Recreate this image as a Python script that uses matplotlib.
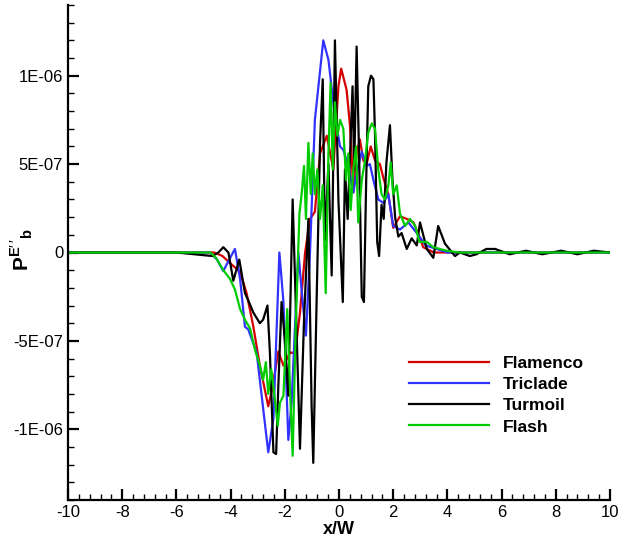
import matplotlib
matplotlib.use('Agg')
import matplotlib.pyplot as plt
from matplotlib.ticker import MultipleLocator, FixedLocator, FixedFormatter
import numpy as np

plt.rcParams['font.family'] = ['Liberation Sans', 'DejaVu Sans']
plt.rcParams['axes.unicode_minus'] = False
plt.rcParams['mathtext.fontset'] = 'custom'
plt.rcParams['mathtext.rm'] = 'Liberation Sans'
plt.rcParams['mathtext.bf'] = 'Liberation Sans:bold'

# values, y in units of 1e-6
flamenco_x = [-10, -6, -4.6, -4.3, -4.02, -3.65, -3.41, -3.16, -2.92, -2.61, -2.45,
              -2.24, -2.05, -1.81, -1.62, -1.44, -1.25, -1.07, -0.89, -0.70, -0.45,
              -0.21, -0.02, 0.08, 0.28, 0.41, 0.53, 0.65, 0.77, 0.90, 1.02, 1.17,
              1.33, 1.51, 1.64, 1.82, 2.0, 2.25, 2.5, 2.75, 3.11, 3.5, 4.5, 6, 8, 10]
flamenco_y = [0, 0, 0, -0.02, -0.06, -0.11, -0.23, -0.42, -0.64, -0.87, -0.76,
              -0.56, -0.64, -0.565, -0.57, -0.34, 0.0, 0.19, 0.23, 0.56, 0.66,
              0.47, 0.94, 1.04, 0.92, 0.71, 0.34, 0.56, 0.64, 0.52, 0.50, 0.60,
              0.52, 0.50, 0.42, 0.33, 0.14, 0.205, 0.19, 0.17, 0.03, 0.0, 0.0, 0.0, 0.0, 0.0]

triclade_x = [-10, -6, -4.76, -4.5, -4.27, -4.05, -3.84, -3.65, -3.47, -3.35, -3.04,
              -2.61, -2.42, -2.20, -2.05, -1.87, -1.75, -1.50, -1.34, -1.22, -1.07,
              -0.89, -0.58, -0.39, -0.15, 0.04, 0.16, 0.34, 0.53, 0.65, 0.84, 1.02,
              1.14, 1.27, 1.45, 1.64, 1.82, 2.0, 2.25, 2.56, 2.87, 3.2, 3.6, 4.0,
              4.34, 5, 6, 7, 8, 9, 10]
triclade_y = [0, 0, 0, -0.04, -0.105, -0.04, 0.02, -0.15, -0.42, -0.435, -0.565,
              -1.13, -0.94, 0.0, -0.28, -1.06, -0.85, 0.0, -0.28, -0.47, 0.0,
              0.75, 1.20, 1.09, 0.77, 0.60, 0.58, 0.49, 0.34, 0.45, 0.57, 0.49,
              0.50, 0.41, 0.30, 0.28, 0.33, 0.15, 0.13, 0.17, 0.11, 0.04, 0.02, 0.0,
              0.0, 0.0, 0.0, 0.0, 0.0, 0.0, 0.0]

turmoil_x = [-10, -6, -4.67, -4.45, -4.27, -4.08, -3.90, -3.68, -3.47, -3.35, -3.16,
             -2.92, -2.80, -2.64, -2.55, -2.42, -2.32, -2.24, -2.12, -2.0, -1.87,
             -1.71, -1.56, -1.44, -1.29, -1.13, -1.01, -0.95, -0.82, -0.70, -0.60,
             -0.52, -0.39, -0.27, -0.15, -0.02, 0.14, 0.22, 0.32, 0.41, 0.50, 0.56,
             0.65, 0.74, 0.84, 0.92, 1.0, 1.08, 1.18, 1.27, 1.33, 1.41, 1.48, 1.57,
             1.65, 1.75, 1.88, 1.97, 2.07, 2.19, 2.31, 2.5, 2.68, 2.87, 2.99, 3.24,
             3.48, 3.66, 3.91, 4.28, 4.46, 4.83, 5.07, 5.44, 5.76, 6.3, 6.9, 7.5,
             8.2, 8.8, 9.4, 10]
turmoil_y = [0, 0, -0.02, 0.0, 0.03, 0.0, -0.16, -0.04, -0.23, -0.27, -0.34,
             -0.40, -0.38, -0.30, -0.565, -1.13, -1.14, -0.76, -0.28, -0.49, -0.81,
             0.30, -0.47, -1.11, -0.38, 0.19, -0.87, -1.19, -0.23, 0.62, 0.98,
             0.07, 0.50, -0.13, 1.20, 0.29, -0.28, 0.47, 0.19, 0.56, 0.94, 0.47,
             1.165, 0.56, -0.25, -0.28, 0.38, 0.94, 1.0, 0.98, 0.66, 0.06, -0.02, 0.27,
             0.19, 0.51, 0.72, 0.42, 0.20, 0.09, 0.11, 0.02, 0.08, 0.04, 0.17, 0.02,
             -0.03, 0.15, 0.05, -0.02, 0.0, -0.02, -0.01, 0.02, 0.02, -0.01, 0.01, -0.01,
             0.01, -0.01, 0.01, 0.0]

flash_x = [-10, -6, -4.75, -4.54, -4.27, -4.02, -3.84, -3.65, -3.47, -3.28, -3.10,
           -2.92, -2.80, -2.70, -2.61, -2.50, -2.42, -2.26, -2.18, -2.05, -1.91,
           -1.81, -1.71, -1.59, -1.46, -1.38, -1.29, -1.22, -1.13, -1.04, -0.97,
           -0.89, -0.80, -0.70, -0.60, -0.49, -0.39, -0.31, -0.23, -0.15, -0.06,
           0.04, 0.16, 0.26, 0.34, 0.43, 0.53, 0.63, 0.71, 0.84, 0.96, 1.08, 1.21,
           1.33, 1.45, 1.57, 1.70, 1.82, 1.91, 2.0, 2.13, 2.25, 2.44, 2.62, 2.81,
           2.97, 3.24, 3.48, 3.97, 4.46, 5.5, 7, 8.5, 10]
flash_y = [0, 0, 0, -0.03, -0.10, -0.15, -0.21, -0.32, -0.38, -0.43, -0.55,
           -0.64, -0.72, -0.62, -0.80, -0.66, -0.76, -0.98, -0.85, -0.81, -0.32,
           -0.76, -1.15, -0.38, 0.22, 0.33, 0.49, 0.19, 0.62, 0.33, 0.56,
           0.33, 0.47, 0.19, 0.38, -0.23, 0.56, 0.96, 0.47, 0.85, 0.66,
           0.75, 0.70, 0.41, 0.56, 0.24, 0.47, 0.60, 0.17, 0.41, 0.52, 0.68, 0.73,
           0.70, 0.47, 0.33, 0.30, 0.38, 0.51, 0.33, 0.38, 0.22, 0.15, 0.19, 0.15,
           0.06, 0.06, 0.03, 0.01, 0.0, 0.0, 0.0, 0.0, 0.0]

series_names = ['Flamenco', 'Triclade', 'Turmoil', 'Flash']
series_colors = ['#d40000', '#3232ff', '#000000', '#00cc00']

yticks = [-1e-6, -5e-7, 0, 5e-7, 1e-6]
ytick_labels = ['-1E-06', '-5E-07', '0', '5E-07', '1E-06']

fig = plt.figure(figsize=(6.21, 5.51), dpi=100)
ax = fig.add_axes([68 / 621, 1 - 500 / 551, 542 / 621, 495 / 551])

all_x = [flamenco_x, triclade_x, turmoil_x, flash_x]
all_y = [flamenco_y, triclade_y, turmoil_y, flash_y]
for xs, ys, name, col in zip(all_x, all_y, series_names, series_colors):
    ax.plot(xs, np.array(ys) * 1e-6, color=col, lw=1.6, label=name)

ax.set_xlim(-10, 10)
ax.set_ylim(-1.4e-6, 1.4e-6)

ax.spines['top'].set_visible(False)
ax.spines['right'].set_visible(False)
ax.spines['left'].set_linewidth(1.6)
ax.spines['bottom'].set_linewidth(1.6)

ax.xaxis.set_major_locator(MultipleLocator(2))
ax.xaxis.set_minor_locator(MultipleLocator(0.4))
ax.yaxis.set_major_locator(FixedLocator(yticks))
ax.yaxis.set_major_formatter(FixedFormatter(ytick_labels))
ax.yaxis.set_minor_locator(MultipleLocator(1e-7))
ax.tick_params(which='major', direction='in', length=8, width=1.6, labelsize=12)
ax.tick_params(which='minor', direction='in', length=4, width=1.0)

ax.set_xlabel('x/W', fontsize=13, fontweight='bold', labelpad=1)
ax.set_ylabel(r"$\mathbf{P}^{\mathbf{E}\prime\,\prime}{}_{\mathbf{b}}$", fontsize=15)
ax.yaxis.set_label_coords(-0.061, 0.505)

ax.legend(loc='upper left', bbox_to_anchor=(0.60, 0.322), frameon=False,
          handlelength=4.6, handletextpad=0.8, labelspacing=0.34,
          prop={'weight': 'bold', 'size': 12.5})

fig.savefig('out.png', dpi=100)
